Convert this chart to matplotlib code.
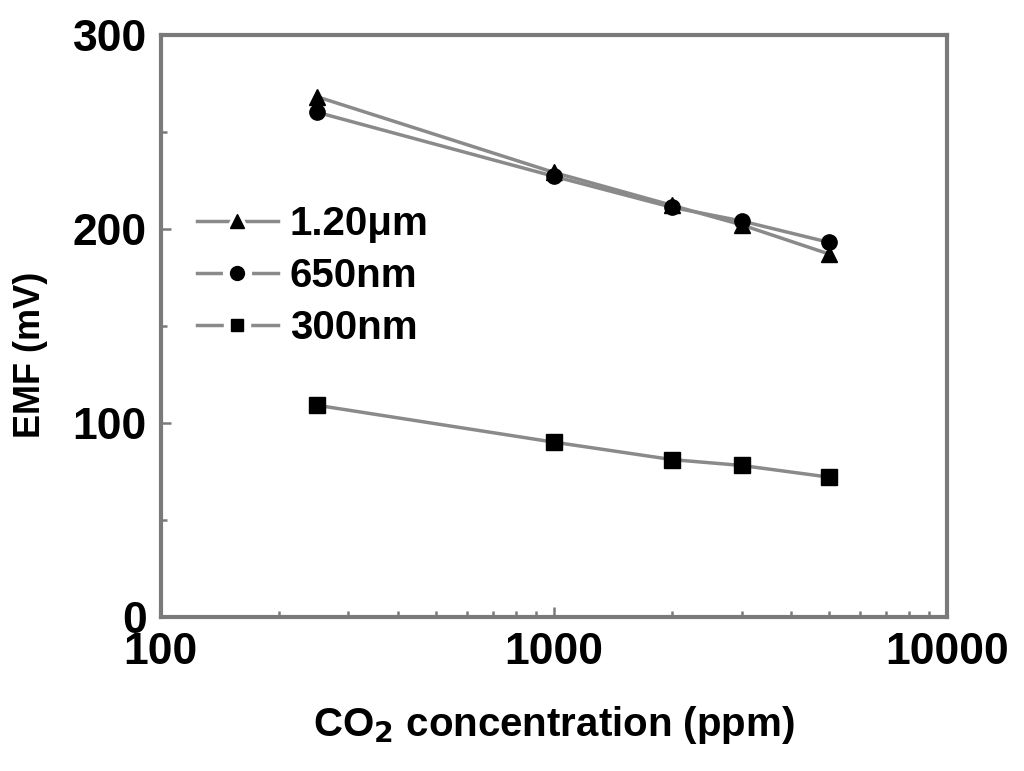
import numpy as np
import matplotlib.pyplot as plt
from matplotlib.lines import Line2D
from matplotlib.legend_handler import HandlerTuple
from matplotlib.ticker import LogLocator, FixedLocator, MultipleLocator, NullFormatter

plt.rcParams['font.family'] = ['Liberation Sans', 'DejaVu Sans']
plt.rcParams['font.weight'] = 'bold'
plt.rcParams['mathtext.default'] = 'bf'

# data
conc = [250, 1000, 2000, 3000, 5000]
emf_1200 = [268, 229, 212, 202, 187]
emf_650 = [260, 227, 211, 204, 193]
emf_300 = [109, 90, 81, 78, 72]
labels = ['1.20\u03bcm', '650nm', '300nm']

fig = plt.figure(figsize=(10.24, 7.71), dpi=100)
ax = fig.add_axes([0.157, 0.2, 0.768, 0.755])

lc = '#8a8a8a'
ax.plot(conc, emf_1200, color=lc, lw=2.5, marker='^', ms=12, mfc='black', mec='black')
ax.plot(conc, emf_650, color=lc, lw=2.5, marker='o', ms=11, mfc='black', mec='black')
ax.plot(conc, emf_300, color=lc, lw=2.5, marker='s', ms=11, mfc='black', mec='black')

ax.set_xscale('log')
ax.set_xlim(100, 10000)
ax.set_ylim(0, 300)
ax.xaxis.set_major_locator(FixedLocator([100, 1000, 10000]))
ax.xaxis.set_major_formatter(plt.FuncFormatter(lambda v, p: '%d' % v))
ax.xaxis.set_minor_locator(LogLocator(base=10, subs=np.arange(2, 10)))
ax.xaxis.set_minor_formatter(NullFormatter())
ax.yaxis.set_major_locator(MultipleLocator(100))
ax.yaxis.set_minor_locator(MultipleLocator(50))

for s in ax.spines.values():
    s.set_color('#7a7a7a')
    s.set_linewidth(3)
ax.tick_params(which='both', direction='in', color='#7a7a7a', width=1.8,
               labelsize=32, top=False, right=False)
ax.tick_params(axis='x', pad=11)
ax.tick_params(axis='y', pad=10)
ax.tick_params(which='major', length=7)
ax.tick_params(which='minor', length=4)
for t in ax.get_xticklabels() + ax.get_yticklabels():
    t.set_fontweight('bold')

ax.set_xlabel('CO$_2$ concentration (ppm)', fontsize=29, fontweight='bold', labelpad=22)
fig.text(30 / 1024, 1 - 355 / 771, 'EMF (mV)', rotation=90, fontsize=26,
         fontweight='bold', ha='center', va='center')

# legend: dashed-looking line with a gap round the marker
handles = []
for m, s in [('^', 10), ('o', 10), ('s', 9)]:
    base = Line2D([], [], color=lc, lw=2.5, marker=m, ms=s + 10, mfc='white', mec='white')
    mark = Line2D([], [], ls='none', marker=m, ms=s, mfc='black', mec='black')
    handles.append((base, mark))
ax.legend(handles, labels, loc='upper left', bbox_to_anchor=(0.0, 0.77),
          frameon=False, handlelength=2.0, handletextpad=0.3,
          labelspacing=0.35, prop={'size': 29, 'weight': 'bold'},
          handler_map={tuple: HandlerTuple(ndivide=1)})

fig.savefig('out.png', dpi=100)
